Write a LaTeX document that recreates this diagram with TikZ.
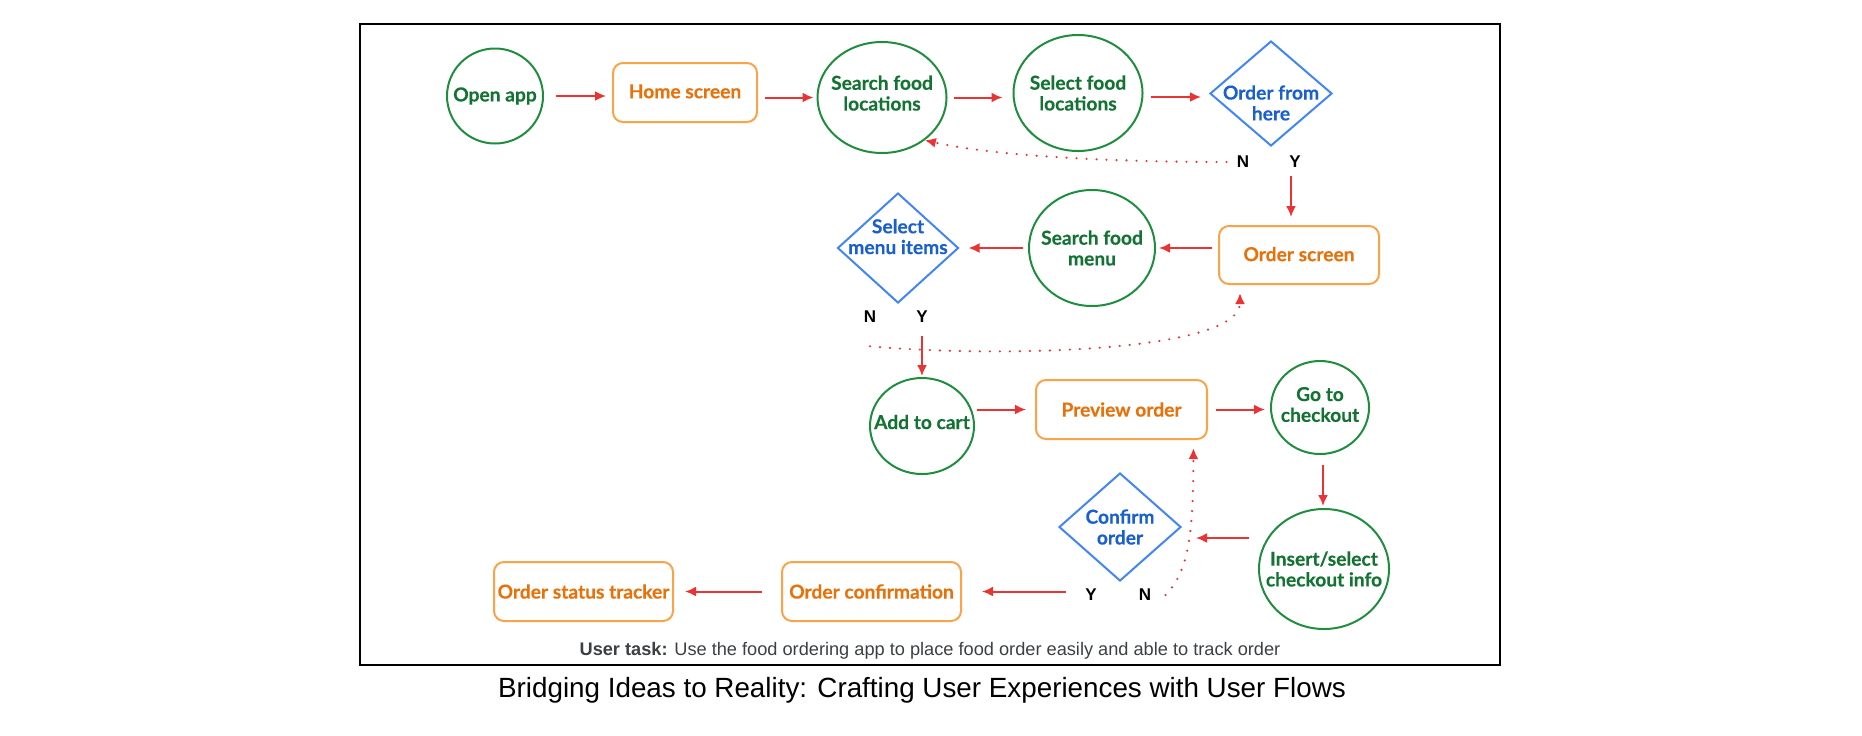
\documentclass[tikz,border=0pt]{standalone}
\usepackage{fontspec}
\setmainfont{Lato}[BoldFeatures={FakeBold=0.3}]
\newfontfamily\arialfont{Liberation Sans}
\usetikzlibrary{shapes.geometric, arrows.meta, calc}
\definecolor{actgreen}{RGB}{30,142,62}
\definecolor{actgreentext}{RGB}{19,115,51}
\definecolor{scrorange}{RGB}{250,163,72}
\definecolor{scrorangetext}{RGB}{232,113,10}
\definecolor{chblue}{RGB}{66,133,244}
\definecolor{chbluetext}{RGB}{25,95,205}
\definecolor{flowred}{RGB}{234,51,51}
\definecolor{taskgray}{RGB}{60,64,67}
\newcommand\nodefont{\fontsize{9.6}{10.4}\selectfont\bfseries}

\begin{document}
\begin{tikzpicture}[x=0.5pt, y=-0.5pt,
  action/.style={ellipse, draw=actgreen, line width=1pt, inner sep=0pt},
  actiontext/.style={align=center, text=actgreentext, font=\nodefont, inner sep=0pt},
  screen/.style={rectangle, rounded corners=5pt, draw=scrorange, line width=1pt, inner sep=0pt, minimum height=29.5pt, text=scrorangetext, font=\nodefont},
  choice/.style={diamond, draw=chblue, line width=1pt, inner sep=0pt},
  choicetext/.style={align=center, text=chbluetext, font=\nodefont, inner sep=0pt},
  yesno/.style={font=\arialfont\fontsize{8.5}{10}\selectfont\bfseries, inner sep=1pt},
  flow/.style={draw=flowred, line width=1pt, -{Latex[length=5.5pt,width=5pt]}},
  back/.style={draw=flowred, line width=1.2pt, line cap=round, dash pattern=on 0pt off 5pt, -{Latex[length=5.5pt,width=5pt]}}]
\useasboundingbox (0,0) rectangle (1862,735);
\draw[line width=0.7pt] (360,24) rectangle (1500,665);

% first row
\node[action, minimum width=48pt, minimum height=47.5pt, label={[actiontext]center:Open app}] (open) at (495,96) {};
\node[screen, minimum width=72pt] (home) at (685,92.5) {\raisebox{1.2pt}{Home screen}};
\node[action, minimum width=64.5pt, minimum height=55.5pt, label={[actiontext, yshift=2.2pt]center:{Search food\\locations}}] (search) at (882,97.5) {};
\node[action, minimum width=64.5pt, minimum height=58pt, label={[actiontext]center:{Select food\\locations}}] (select) at (1078,93) {};
\node[choice, minimum width=61pt, minimum height=52.5pt, label={[choicetext, yshift=-4.7pt]center:{Order from\\here}}] (here) at (1271,93.5) {};
\node[yesno] (nhere) at (1243,162) {N};
\node[yesno] (yhere) at (1295,162) {Y};

% second row
\node[screen, minimum width=80pt, minimum height=29pt] (oscreen) at (1299,255) {\raisebox{1pt}{Order screen}};
\node[action, minimum width=63pt, minimum height=58pt, label={[actiontext]center:{Search food\\menu}}] (smenu) at (1092,248) {};
\node[choice, minimum width=60.5pt, minimum height=55pt, label={[choicetext, yshift=5.7pt]center:{Select\\menu items}}] (items) at (898,248) {};
\node[yesno] (nitems) at (870,317) {N};
\node[yesno] (yitems) at (922,317) {Y};

% third row
\node[action, minimum width=52pt, minimum height=48pt, label={[actiontext, yshift=2pt]center:Add to cart}] (cart) at (922,426) {};
\node[screen, minimum width=85.5pt] (preview) at (1121.5,409.5) {Preview order};
\node[action, minimum width=49pt, minimum height=46.5pt, label={[actiontext, yshift=1.5pt]center:{Go to\\checkout}}] (checkout) at (1320,407.5) {};
\node[action, minimum width=65pt, minimum height=60pt, label={[actiontext]center:{Insert/select\\checkout info}}] (insert) at (1324,569) {};
\node[choice, minimum width=61pt, minimum height=54pt, label={[choicetext]center:{Confirm\\order}}] (confirm) at (1120,527) {};
\node[yesno] (yconfirm) at (1091,595) {Y};
\node[yesno] (nconfirm) at (1145,595) {N};
\node[screen, minimum width=89.5pt] (oconf) at (871.5,591.5) {Order confirmation};
\node[screen, minimum width=89.5pt] (tracker) at (583.5,591.5) {Order status tracker};

% connectors
\draw[flow, shorten <=6pt, shorten >=3pt] (open.east) -- (open.east -| home.west);
\draw[flow, shorten <=3.5pt, shorten >=1.5pt] (search.west -| home.east) -- (search.west);
\draw[flow, shorten <=3pt, shorten >=5pt] (search.east) -- (search.east -| select.west);
\draw[flow, shorten <=3.5pt, shorten >=4pt] ([yshift=-2pt]select.east) -- ([yshift=-2pt]select.east -| here.west);
\draw[flow, shorten <=3pt, shorten >=4pt] ([xshift=-2pt]yhere.south) -- ([xshift=-2pt]yhere.south |- oscreen.north);
\draw[flow, shorten <=3pt, shorten >=1.5pt] (oscreen.west |- smenu.east) -- (smenu.east);
\draw[flow, shorten <=2.5pt, shorten >=4.5pt] (smenu.west) -- (items.east);
\draw[flow, shorten <=5.5pt, shorten >=0.5pt] (yitems.south) -- (cart.north);
\draw[flow, shorten <=1pt, shorten >=4.5pt] (cart.east |- preview.west) -- (preview.west);
\draw[flow, shorten <=4pt, shorten >=2.5pt] (preview.east) -- (preview.east -| checkout.west);
\draw[flow, shorten <=5pt, shorten >=1pt] ([xshift=1.5pt]checkout.south) -- ([xshift=1.5pt]checkout.south |- insert.north);
\draw[flow, shorten <=4.5pt, shorten >=7pt] ([yshift=-5.5pt]confirm.east -| insert.west) -- ([yshift=-5.5pt]confirm.east);
\draw[flow, shorten <=8.5pt, shorten >=10pt] (yconfirm.west |- oconf.east) -- (oconf.east);
\draw[flow, shorten <=9.5pt, shorten >=5.5pt] (oconf.west) -- (tracker.east);

% no-branches
\draw[back, shorten <=4pt] (nhere.west) .. controls (1100,162) and (990,155) .. (search.-45);
\draw[back, shorten >=4pt] ([yshift=-10.5pt]nitems.south) .. controls (1000,358) and (1240,352) .. ([xshift=-29.5pt]oscreen.south);
\draw[back, shorten >=4pt] ([xshift=6pt]nconfirm.east) .. controls (1190,570) and (1193,530) .. ([xshift=36pt]preview.south);

% texts
\node[font=\arialfont\fontsize{9.1}{10}\selectfont, text=taskgray] (task) at (930,651) {\textbf{User task:} Use the food ordering app to place food order easily and able to track order};
\node[font=\arialfont\fontsize{13.9}{16}\selectfont] (title) at (922,690) {Bridging Ideas to Reality: Crafting User Experiences with User Flows};
\end{tikzpicture}
\end{document}
